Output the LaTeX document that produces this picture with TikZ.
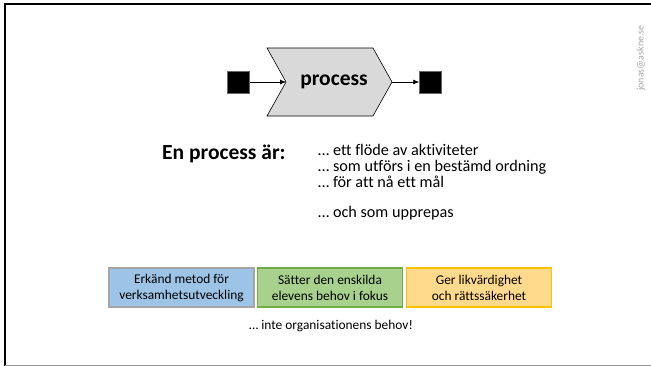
\documentclass[tikz,border=0pt]{standalone}
\usepackage{fontspec}
\setmainfont[Ligatures=NoCommon]{Carlito}
\usetikzlibrary{arrows.meta}
\definecolor{bluefill}{HTML}{9DC3E6}
\definecolor{blueline}{HTML}{A5A5A5}
\definecolor{greenfill}{HTML}{A9D18E}
\definecolor{greenline}{HTML}{70AD47}
\definecolor{orangefill}{HTML}{FFDA8C}
\definecolor{orangeline}{HTML}{FFC000}
\definecolor{chevfill}{HTML}{D9D9D9}
\definecolor{wm}{HTML}{A6A6A6}
\tikzset{
  sq/.style={draw=black!60, fill=black, minimum size=22pt, inner sep=0pt},
  arr/.style={-{Latex[length=6pt,width=5pt]}, line width=0.8pt},
  listline/.style={anchor=base west, inner sep=0pt, font=\fontsize{16.2}{16}\selectfont},
  infobox/.style={minimum width=145pt, minimum height=39pt, inner sep=0pt, align=center,
    line width=1.2pt, font=\fontsize{13.4}{16}\selectfont},
}
\begin{document}
\begin{tikzpicture}[x=1pt,y=-1pt]
\useasboundingbox (0,0) rectangle (651,367);
% frame
\draw[line width=2.2pt] (5,366) -- (5,4) -- (651,4);
\draw[black!40, line width=0.8pt] (5,365.5) -- (651,365.5);
% watermark
\node[rotate=90, text=wm, font=\fontsize{10}{10}\selectfont, inner sep=0pt] (mark) at (641,58) {jonas@askne.se};
% chevron
\draw[fill=chevfill, line width=0.6pt] (267,48) -- (373,48) -- (392,82) -- (373,116) -- (267,116) -- (286,82) -- cycle;
\coordinate (notch) at (286,82);
\coordinate (tip) at (392,82);
\node[font=\fontsize{21.5}{21.5}\selectfont\bfseries, inner sep=0pt] (proc) at (334,82) {process};
\node[sq] (in) at (238.5,82) {};
\node[sq] (out) at (430.5,82) {};
\draw[arr] (in) -- (notch);
\draw[arr] (tip) -- (out);
% definition
\node[anchor=base west, inner sep=0pt, font=\fontsize{21.5}{21.5}\selectfont\bfseries] (def) at (162,159.5) {En process är:};
\node[listline] (l1) at (318,155) {… ett flöde av aktiviteter};
\node[listline] (l2) at (318,171) {… som utförs i en bestämd ordning};
\node[listline] (l3) at (318,187) {… för att nå ett mål};
\node[listline] (l4) at (318,217) {… och som upprepas};
% boxes
\node[infobox, draw=blueline, fill=bluefill] (b1) at (181.5,287.5) {Erkänd metod för\\verksamhetsutveckling};
\node[infobox, draw=greenline, fill=greenfill] (b2) at (330,287.5) {Sätter den enskilda\\elevens behov i fokus};
\node[infobox, draw=orangeline, fill=orangefill] (b3) at (479,287.5) {Ger likvärdighet\\och rättssäkerhet};
\node[font=\fontsize{13.4}{16}\selectfont, inner sep=0pt] (note) at (331,326) {… inte organisationens behov!};
\end{tikzpicture}
\end{document}
